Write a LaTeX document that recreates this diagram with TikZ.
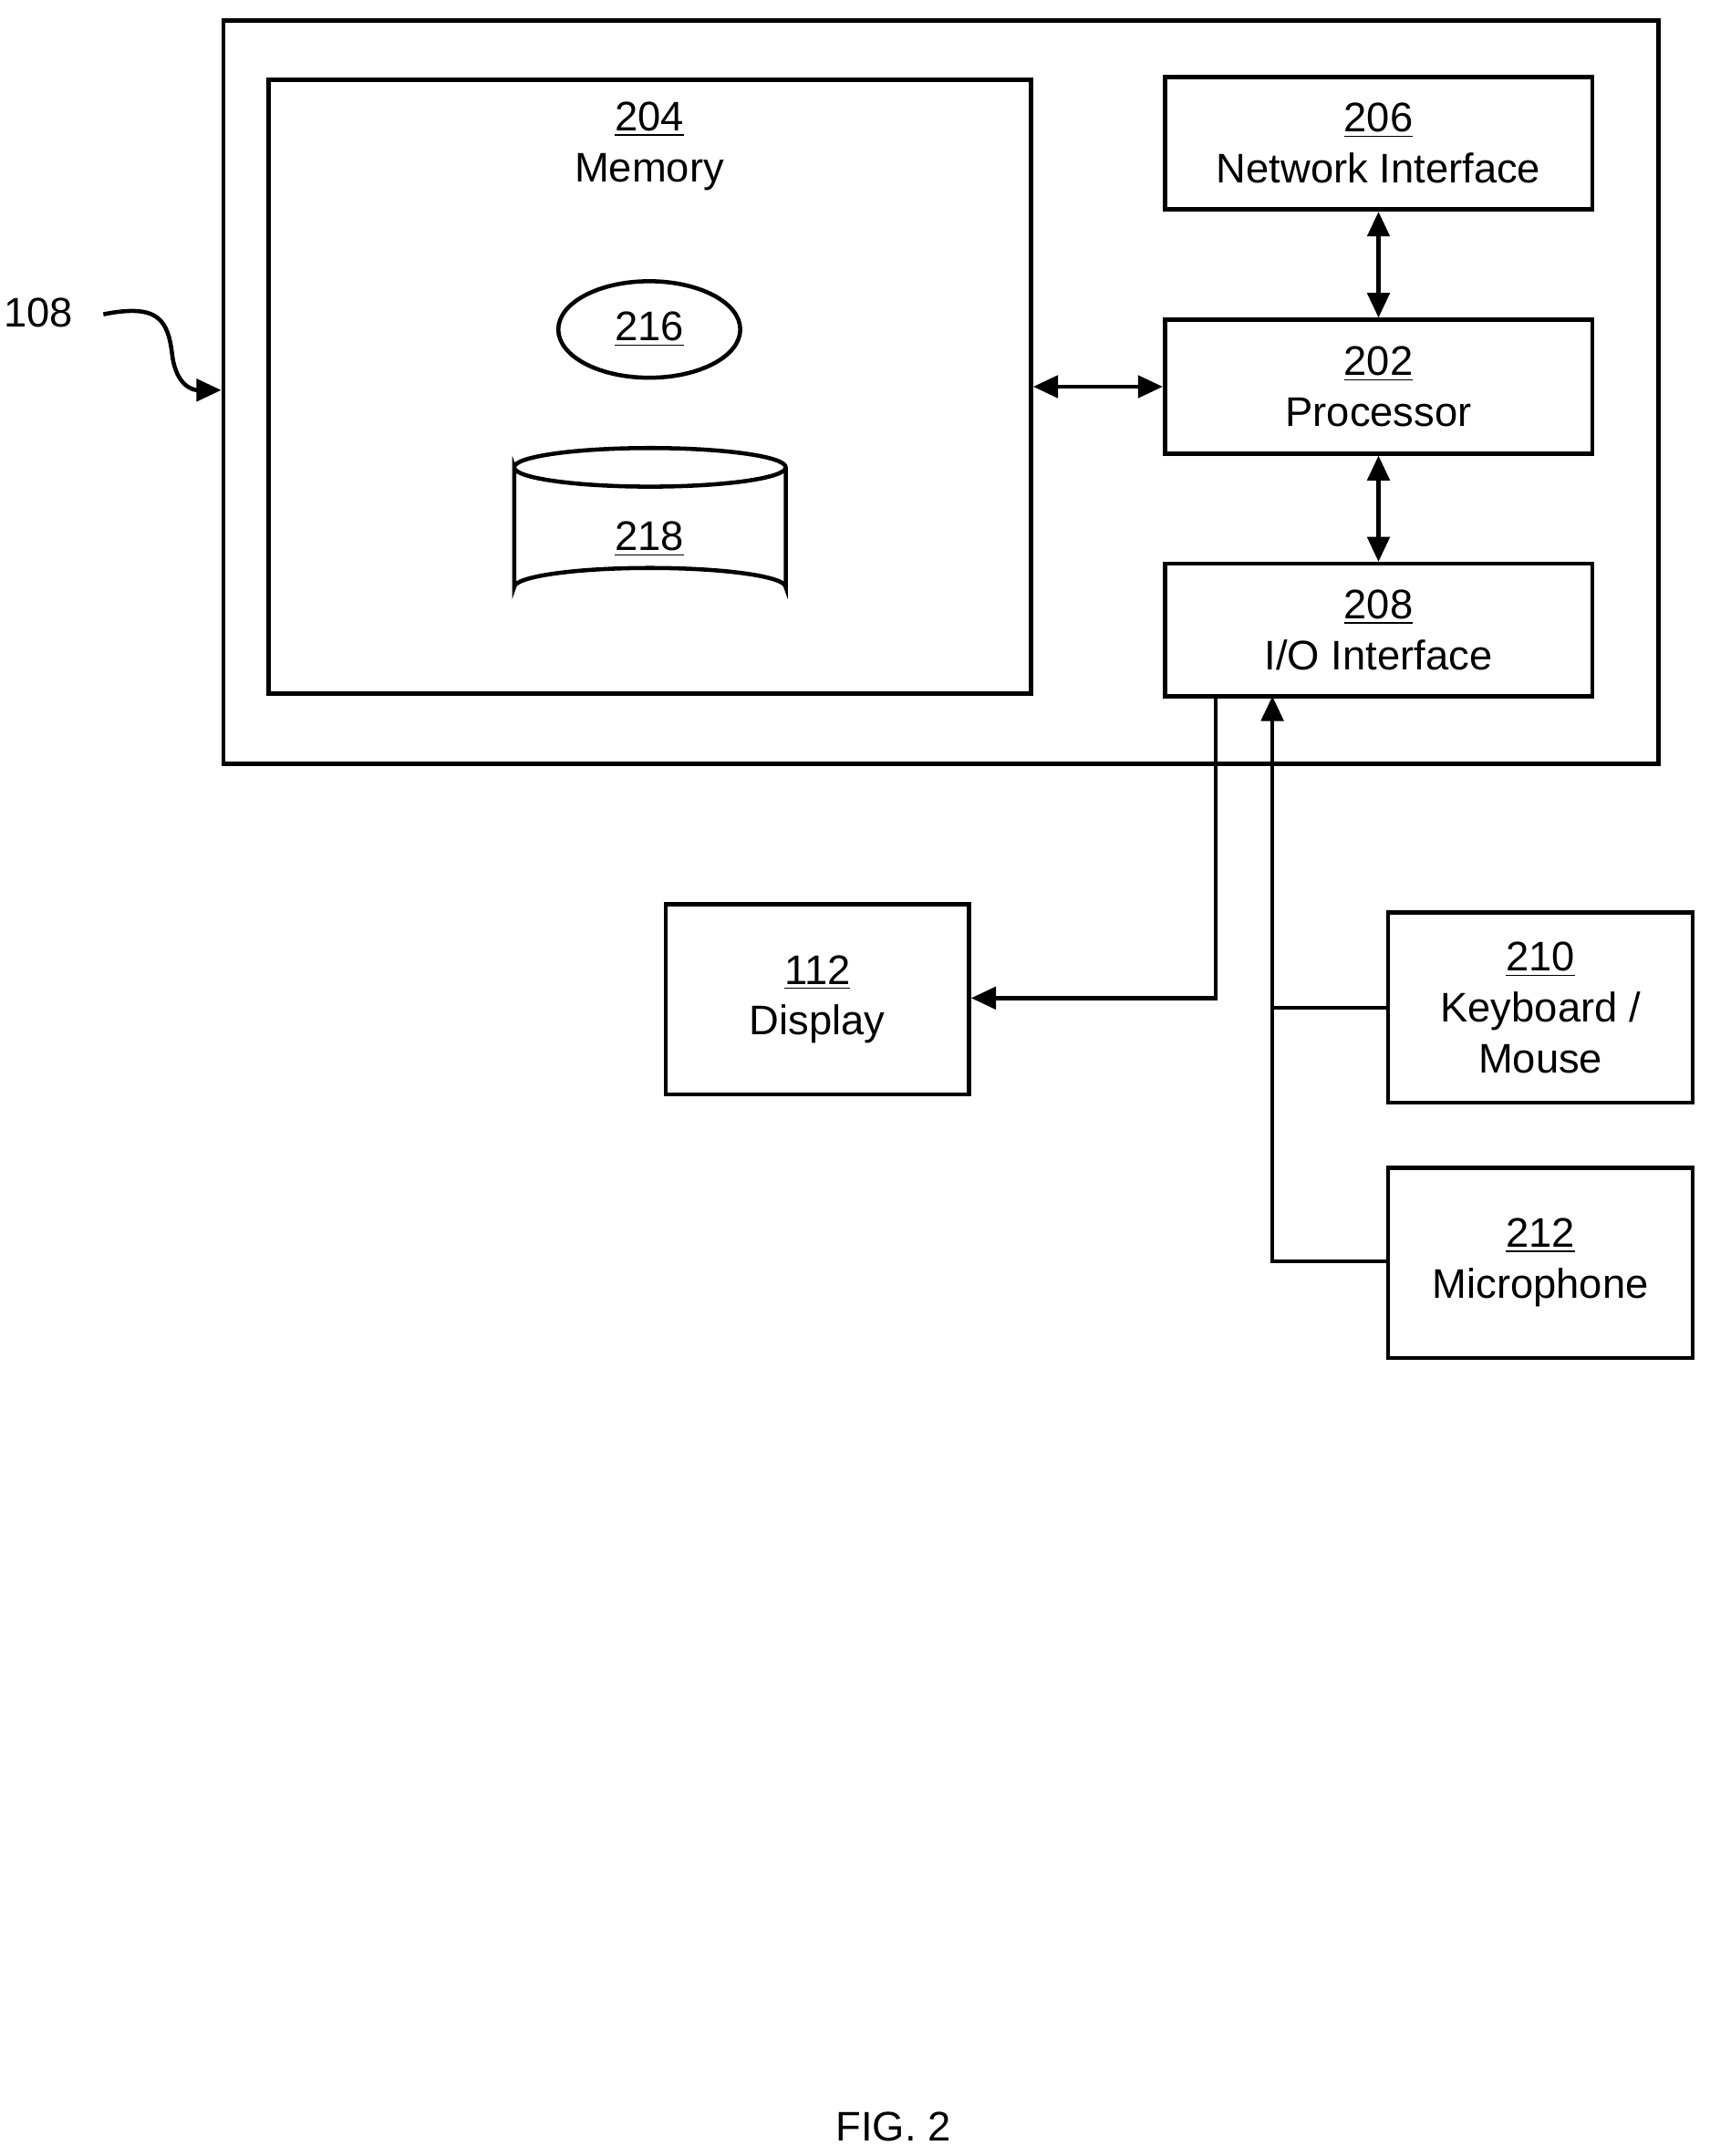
\documentclass[tikz,border=0pt]{standalone}
\usepackage{fontspec}
\setmainfont{Liberation Sans}
\usetikzlibrary{arrows.meta,shapes.geometric}
\begin{document}
\begin{tikzpicture}[x=0.5pt,y=-0.5pt,
  box/.style={draw,line width=1.5pt,align=center,inner sep=0pt},
  lbl/.style={align=center,inner sep=0pt},
  con/.style={line width=1.5pt},
  arr/.style={con,-{Triangle[length=9pt,width=8pt]}},
  darr/.style={con,{Triangle[length=9pt,width=8pt]}-{Triangle[length=9pt,width=8pt]}},
  every node/.append style={font=\fontsize{15}{18.5}\selectfont}]
\useasboundingbox (0,0) rectangle (1240,1564);
\node[box,minimum width=520.5pt,minimum height=269.5pt] (outer) at (682.5,284.5) {};
\node[box,minimum width=276.5pt,minimum height=222.5pt] (mem) at (471.5,280.5) {};
\node[lbl] (memt) at (471,106) {\underline{204}\\Memory};
\node[draw,line width=1.5pt,ellipse,minimum width=66pt,minimum height=35pt,inner sep=0pt] (e216) at (471,239) {\underline{216}};
\draw[line width=1.5pt] (373,339) arc[start angle=180,end angle=360,x radius=98.5,y radius=14]
  arc[start angle=0,end angle=180,x radius=98.5,y radius=14] -- (373,426)
  arc[start angle=180,end angle=360,x radius=98.5,y radius=14] -- (570,339);
\node[lbl] (c218) at (471,391) {\underline{218}};
\node[box,minimum width=155pt,minimum height=48pt] (n206) at (1000,104) {\underline{206}\\Network Interface};
\node[box,minimum width=155pt,minimum height=48.5pt] (n202) at (1000,280.5) {\underline{202}\\Processor};
\node[box,minimum width=155pt,minimum height=48pt] (n208) at (1000,457) {\underline{208}\\I/O Interface};
\node[box,minimum width=110pt,minimum height=69pt] (n112) at (593,725) {\underline{112}\\Display};
\node[box,minimum width=110.5pt,minimum height=69pt] (n210) at (1117.5,731) {\underline{210}\\Keyboard /\\Mouse};
\node[box,minimum width=110.5pt,minimum height=69pt] (n212) at (1117.5,916) {\underline{212}\\Microphone};
\draw[darr] (n206) -- (n202);
\draw[darr] (n202) -- (n208);
\draw[darr] (mem.east) -- (n202.west);
\coordinate (d1) at (882,505);
\coordinate (d2) at (882,724);
\draw[arr] (d1) -- (d2) -- (n112.east |- d2);
\coordinate (k1) at (923,731);
\coordinate (m1) at (923,915);
\coordinate (i1) at (923,505);
\draw[con] (n210.west |- k1) -- (k1);
\draw[arr] (n212.west |- m1) -- (m1) -- (i1);
\node[lbl] (l108) at (28,227) {108};
\draw[arr] (75,228) .. controls (115,220) and (122,232) .. (125,258) .. controls (128,280) and (140,283) .. (outer.west |- 0,283);
\node[lbl] (fig) at (648,1543) {FIG. 2};
\end{tikzpicture}
\end{document}
